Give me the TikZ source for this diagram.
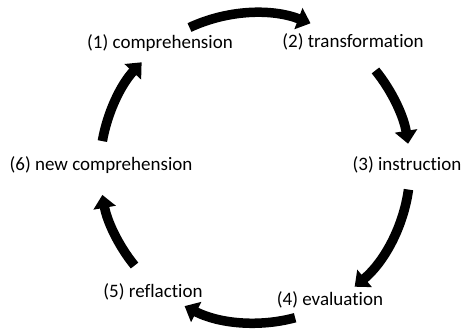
\documentclass[tikz,border=0pt]{standalone}
\usepackage{fontspec}
\setmainfont{Carlito}[Ligatures=NoCommon]
\usepackage{tikz}
\usetikzlibrary{arrows.meta,positioning}
\tikzstyle{stage}=[inner sep=0pt, font=\fontsize{19}{23}\selectfont]
\tikzstyle{cyc}=[line width=9.5pt, -{Triangle[length=13pt,width=22pt]}]

\begin{document}
\begin{tikzpicture}[x=1pt,y=1pt]
	\useasboundingbox (0,0) rectangle (464,330);
	\coordinate (mid) at (255,162);
	
	\node[stage](comp) at (160,287) {(1) comprehension};
	\node[stage](trans) at (353,288) {(2) transformation};
	\node[stage](instr) at (407,165) {(3) instruction};
	\node[stage](eval) at (330,30) {(4) evaluation};
	\node[stage](refl) at (153,38) {(5) reflaction};
	\node[stage](newcomp) at (101,165) {(6) new comprehension};
	
	\coordinate (c1) at ([shift={(115:155pt)}]mid);
	\coordinate (c2) at ([shift={(39:155pt)}]mid);
	\coordinate (c3) at ([shift={(-8:155pt)}]mid);
	\coordinate (c4) at ([shift={(-75:155pt)}]mid);
	\coordinate (c5) at ([shift={(219:155pt)}]mid);
	\coordinate (c6) at ([shift={(170:155pt)}]mid);
	\draw[cyc] (c1) arc[start angle=115,end angle=69,radius=155pt];
	\draw[cyc] (c2) arc[start angle=39,end angle=9,radius=155pt];
	\draw[cyc] (c3) arc[start angle=-8,end angle=-50,radius=155pt];
	\draw[cyc] (c4) arc[start angle=-75,end angle=-117,radius=155pt];
	\draw[cyc] (c5) arc[start angle=219,end angle=190,radius=155pt];
	\draw[cyc] (c6) arc[start angle=170,end angle=137,radius=155pt];
\end{tikzpicture}
\end{document}
